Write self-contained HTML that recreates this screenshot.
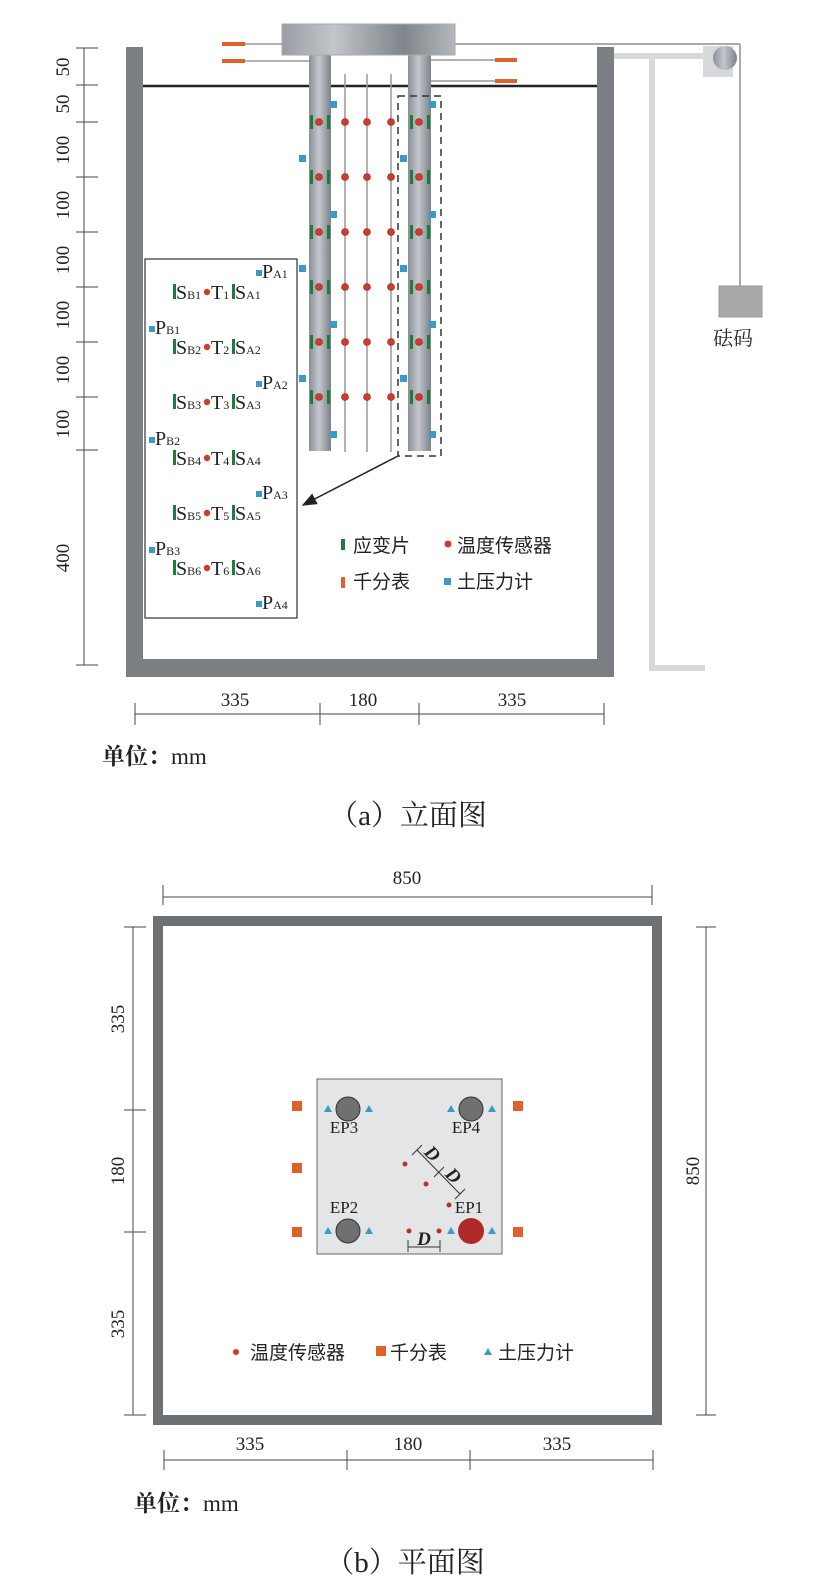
<!DOCTYPE html>
<html><head><meta charset="utf-8"><style>
html,body{margin:0;padding:0;background:#fff}
svg{display:block}
.s{font-family:"Liberation Serif","Noto Serif CJK SC",serif;fill:#222}
.c{font-family:"Liberation Sans","Noto Sans CJK SC",sans-serif;fill:#222}
.t{font-family:"Liberation Serif","Noto Serif CJK SC",serif;fill:#222}
</style></head><body>
<svg width="816" height="1577" viewBox="0 0 816 1577" xmlns="http://www.w3.org/2000/svg">
<defs>
<linearGradient id="pg" x1="0" x2="1" y1="0" y2="0">
<stop offset="0" stop-color="#8a8f96"/><stop offset="0.45" stop-color="#c4c8cd"/><stop offset="1" stop-color="#7c8289"/></linearGradient>
<linearGradient id="cg" x1="0" x2="1"><stop offset="0" stop-color="#9a9ea4"/><stop offset="0.3" stop-color="#c2c5c9"/><stop offset="0.7" stop-color="#7f858b"/><stop offset="1" stop-color="#b4b8bc"/></linearGradient>
<marker id="ar" markerWidth="10" markerHeight="8" refX="9" refY="4" orient="auto"><path d="M0,0 L10,4 L0,8 z" fill="#222"/></marker>
</defs>

<!-- ===== Elevation ===== -->
<rect x="614" y="53" width="106" height="6" fill="#d7d9db"/>
<rect x="649" y="56" width="6" height="615" fill="#d7d9db"/>
<rect x="649" y="665" width="56" height="6" fill="#d7d9db"/>
<rect x="703" y="46" width="30" height="31" fill="#d7d9db"/>
<circle cx="725" cy="58" r="12" fill="url(#pg)"/>
<line x1="455" y1="44" x2="740" y2="44" stroke="#aaa" stroke-width="2"/>
<line x1="740" y1="44" x2="740" y2="286" stroke="#aaa" stroke-width="2"/>
<rect x="719" y="286" width="43" height="31" fill="#a8a9ab" stroke="#999"/>
<text x="733" y="345" class="t" font-size="20" text-anchor="middle">砝码</text>

<rect x="126" y="47" width="17" height="630" fill="#7b7e82"/>
<rect x="597" y="47" width="17" height="630" fill="#7b7e82"/>
<rect x="126" y="659" width="488" height="18" fill="#7b7e82"/>
<line x1="143" y1="86" x2="597" y2="86" stroke="#222" stroke-width="2.5"/>

<g stroke="#999" stroke-width="1.5"><line x1="345" y1="74" x2="345" y2="452"/><line x1="367" y1="74" x2="367" y2="452"/><line x1="391" y1="74" x2="391" y2="452"/></g>
<rect x="309" y="54" width="22" height="397" fill="url(#pg)"/>
<rect x="408" y="54" width="23" height="397" fill="url(#pg)"/>
<rect x="282" y="24" width="173" height="31" fill="url(#cg)" stroke="#aaa"/>
<g stroke="#999" stroke-width="1.5">
<line x1="245" y1="44" x2="282" y2="44"/><line x1="245" y1="61" x2="309" y2="61"/>
<line x1="431" y1="60" x2="495" y2="60"/><line x1="431" y1="81" x2="495" y2="81"/>
</g>
<g fill="#e0622a"><rect x="222" y="42" width="23" height="4"/><rect x="222" y="59" width="23" height="4"/><rect x="495" y="58" width="22" height="4"/><rect x="495" y="79" width="22" height="4"/></g>
<g>
<g fill="#1f7a3d">
<rect x="310" y="115" width="3" height="14"/><rect x="327" y="115" width="3" height="14"/><rect x="410" y="115" width="3" height="14"/><rect x="427" y="115" width="3" height="14"/>
<rect x="310" y="170" width="3" height="14"/><rect x="327" y="170" width="3" height="14"/><rect x="410" y="170" width="3" height="14"/><rect x="427" y="170" width="3" height="14"/>
<rect x="310" y="225" width="3" height="14"/><rect x="327" y="225" width="3" height="14"/><rect x="410" y="225" width="3" height="14"/><rect x="427" y="225" width="3" height="14"/>
<rect x="310" y="280" width="3" height="14"/><rect x="327" y="280" width="3" height="14"/><rect x="410" y="280" width="3" height="14"/><rect x="427" y="280" width="3" height="14"/>
<rect x="310" y="335" width="3" height="14"/><rect x="327" y="335" width="3" height="14"/><rect x="410" y="335" width="3" height="14"/><rect x="427" y="335" width="3" height="14"/>
<rect x="310" y="390" width="3" height="14"/><rect x="327" y="390" width="3" height="14"/><rect x="410" y="390" width="3" height="14"/><rect x="427" y="390" width="3" height="14"/>
</g>
<g fill="#d23a2a" stroke="#8a2018" stroke-width="0.6">
<circle cx="319" cy="122" r="3.5"/><circle cx="345" cy="122" r="3.5"/><circle cx="367" cy="122" r="3.5"/><circle cx="391" cy="122" r="3.5"/><circle cx="419" cy="122" r="3.5"/>
<circle cx="319" cy="177" r="3.5"/><circle cx="345" cy="177" r="3.5"/><circle cx="367" cy="177" r="3.5"/><circle cx="391" cy="177" r="3.5"/><circle cx="419" cy="177" r="3.5"/>
<circle cx="319" cy="232" r="3.5"/><circle cx="345" cy="232" r="3.5"/><circle cx="367" cy="232" r="3.5"/><circle cx="391" cy="232" r="3.5"/><circle cx="419" cy="232" r="3.5"/>
<circle cx="319" cy="287" r="3.5"/><circle cx="345" cy="287" r="3.5"/><circle cx="367" cy="287" r="3.5"/><circle cx="391" cy="287" r="3.5"/><circle cx="419" cy="287" r="3.5"/>
<circle cx="319" cy="342" r="3.5"/><circle cx="345" cy="342" r="3.5"/><circle cx="367" cy="342" r="3.5"/><circle cx="391" cy="342" r="3.5"/><circle cx="419" cy="342" r="3.5"/>
<circle cx="319" cy="397" r="3.5"/><circle cx="345" cy="397" r="3.5"/><circle cx="367" cy="397" r="3.5"/><circle cx="391" cy="397" r="3.5"/><circle cx="419" cy="397" r="3.5"/>
</g>
<g fill="#3a9ac8">
<rect x="330" y="101" width="7" height="7"/><rect x="299" y="155" width="7" height="7"/><rect x="330" y="211" width="7" height="7"/><rect x="299" y="265" width="7" height="7"/><rect x="330" y="321" width="7" height="7"/><rect x="299" y="375" width="7" height="7"/><rect x="330" y="431" width="7" height="7"/>
<rect x="429" y="101" width="7" height="7"/><rect x="400" y="155" width="7" height="7"/><rect x="429" y="211" width="7" height="7"/><rect x="400" y="265" width="7" height="7"/><rect x="429" y="321" width="7" height="7"/><rect x="400" y="375" width="7" height="7"/><rect x="429" y="431" width="7" height="7"/>
</g>
</g>
<rect x="398" y="96" width="43" height="360" fill="none" stroke="#333" stroke-width="1.5" stroke-dasharray="7,5"/>
<line x1="398" y1="456" x2="303" y2="505" stroke="#222" stroke-width="1.5" marker-end="url(#ar)"/>

<rect x="145" y="259" width="152" height="359" fill="#fff" stroke="#333" stroke-width="1.2"/>
<g class="s" font-size="20">
<g fill="#3a9ac8"><rect x="256" y="270" width="6" height="6"/><rect x="149" y="326" width="6" height="6"/><rect x="256" y="381" width="6" height="6"/><rect x="149" y="437" width="6" height="6"/><rect x="256" y="491" width="6" height="6"/><rect x="149" y="547" width="6" height="6"/><rect x="256" y="601" width="6" height="6"/></g>
<text x="262" y="278">P<tspan font-size="12">A1</tspan></text>
<text x="155" y="334">P<tspan font-size="12">B1</tspan></text>
<text x="262" y="389">P<tspan font-size="12">A2</tspan></text>
<text x="155" y="445">P<tspan font-size="12">B2</tspan></text>
<text x="262" y="499">P<tspan font-size="12">A3</tspan></text>
<text x="155" y="555">P<tspan font-size="12">B3</tspan></text>
<text x="262" y="609">P<tspan font-size="12">A4</tspan></text>
</g>
<g class="s" font-size="20">
<g fill="#1f7a3d">
<rect x="173" y="284" width="3" height="15"/><rect x="232" y="284" width="3" height="15"/>
<rect x="173" y="339" width="3" height="15"/><rect x="232" y="339" width="3" height="15"/>
<rect x="173" y="394" width="3" height="15"/><rect x="232" y="394" width="3" height="15"/>
<rect x="173" y="450" width="3" height="15"/><rect x="232" y="450" width="3" height="15"/>
<rect x="173" y="505" width="3" height="15"/><rect x="232" y="505" width="3" height="15"/>
<rect x="173" y="560" width="3" height="15"/><rect x="232" y="560" width="3" height="15"/>
</g>
<g fill="#d23a2a"><circle cx="207" cy="292" r="3.2"/><circle cx="207" cy="347" r="3.2"/><circle cx="207" cy="402" r="3.2"/><circle cx="207" cy="458" r="3.2"/><circle cx="207" cy="513" r="3.2"/><circle cx="207" cy="568" r="3.2"/></g>
<text x="176" y="299">S<tspan font-size="12">B1</tspan></text><text x="211" y="299">T<tspan font-size="12">1</tspan></text><text x="235" y="299">S<tspan font-size="12">A1</tspan></text>
<text x="176" y="354">S<tspan font-size="12">B2</tspan></text><text x="211" y="354">T<tspan font-size="12">2</tspan></text><text x="235" y="354">S<tspan font-size="12">A2</tspan></text>
<text x="176" y="409">S<tspan font-size="12">B3</tspan></text><text x="211" y="409">T<tspan font-size="12">3</tspan></text><text x="235" y="409">S<tspan font-size="12">A3</tspan></text>
<text x="176" y="465">S<tspan font-size="12">B4</tspan></text><text x="211" y="465">T<tspan font-size="12">4</tspan></text><text x="235" y="465">S<tspan font-size="12">A4</tspan></text>
<text x="176" y="520">S<tspan font-size="12">B5</tspan></text><text x="211" y="520">T<tspan font-size="12">5</tspan></text><text x="235" y="520">S<tspan font-size="12">A5</tspan></text>
<text x="176" y="575">S<tspan font-size="12">B6</tspan></text><text x="211" y="575">T<tspan font-size="12">6</tspan></text><text x="235" y="575">S<tspan font-size="12">A6</tspan></text>
</g>

<rect x="341" y="539" width="4" height="11" fill="#1f7a3d"/>
<text x="353" y="552" class="c" font-size="19">应变片</text>
<circle cx="448" cy="544" r="3.5" fill="#d23a2a"/>
<text x="457" y="552" class="c" font-size="19">温度传感器</text>
<rect x="341" y="577" width="4" height="11" fill="#e0622a"/>
<text x="353" y="588" class="c" font-size="19">千分表</text>
<rect x="444" y="578" width="7" height="7" fill="#3a9ac8"/>
<text x="457" y="588" class="c" font-size="19">土压力计</text>

<g stroke="#444" stroke-width="1">
<line x1="84" y1="48" x2="84" y2="665"/>
<line x1="76" y1="48" x2="98" y2="48"/><line x1="76" y1="85" x2="98" y2="85"/><line x1="76" y1="122" x2="98" y2="122"/><line x1="76" y1="177" x2="98" y2="177"/><line x1="76" y1="232" x2="98" y2="232"/><line x1="76" y1="287" x2="98" y2="287"/><line x1="76" y1="342" x2="98" y2="342"/><line x1="76" y1="397" x2="98" y2="397"/><line x1="76" y1="450" x2="98" y2="450"/><line x1="76" y1="665" x2="98" y2="665"/>
</g>
<g class="s" font-size="19" text-anchor="middle">
<text transform="translate(69,67) rotate(-90)">50</text>
<text transform="translate(69,104) rotate(-90)">50</text>
<text transform="translate(69,150) rotate(-90)">100</text>
<text transform="translate(69,205) rotate(-90)">100</text>
<text transform="translate(69,260) rotate(-90)">100</text>
<text transform="translate(69,315) rotate(-90)">100</text>
<text transform="translate(69,370) rotate(-90)">100</text>
<text transform="translate(69,424) rotate(-90)">100</text>
<text transform="translate(69,558) rotate(-90)">400</text>
</g>
<g stroke="#444" stroke-width="1">
<line x1="135" y1="714" x2="604" y2="714"/>
<line x1="135" y1="703" x2="135" y2="725"/><line x1="320" y1="703" x2="320" y2="725"/><line x1="419" y1="703" x2="419" y2="725"/><line x1="604" y1="703" x2="604" y2="725"/>
</g>
<g class="s" font-size="19" text-anchor="middle"><text x="235" y="706">335</text><text x="363" y="706">180</text><text x="512" y="706">335</text></g>
<text x="102" y="764" class="t" font-size="23" font-weight="bold">单位：<tspan font-weight="normal">mm</tspan></text>
<text x="408" y="825" class="t" font-size="29" text-anchor="middle">（a）立面图</text>

<!-- ===== Plan ===== -->
<g stroke="#444" stroke-width="1">
<line x1="163" y1="897" x2="652" y2="897"/><line x1="163" y1="885" x2="163" y2="905"/><line x1="652" y1="885" x2="652" y2="905"/>
</g>
<text x="407" y="884" class="s" font-size="19" text-anchor="middle">850</text>
<rect x="158" y="921" width="499" height="499" fill="none" stroke="#6e7174" stroke-width="10"/>
<g stroke="#444" stroke-width="1">
<line x1="133" y1="927" x2="133" y2="1415"/>
<line x1="124" y1="927" x2="146" y2="927"/><line x1="124" y1="1110" x2="146" y2="1110"/><line x1="124" y1="1232" x2="146" y2="1232"/><line x1="124" y1="1415" x2="146" y2="1415"/>
<line x1="706" y1="927" x2="706" y2="1415"/><line x1="696" y1="927" x2="716" y2="927"/><line x1="696" y1="1415" x2="716" y2="1415"/>
</g>
<g class="s" font-size="19" text-anchor="middle">
<text transform="translate(124,1019) rotate(-90)">335</text>
<text transform="translate(124,1171) rotate(-90)">180</text>
<text transform="translate(124,1324) rotate(-90)">335</text>
<text transform="translate(699,1171) rotate(-90)">850</text>
</g>
<rect x="317" y="1079" width="185" height="175" fill="#e4e5e6" stroke="#666" stroke-width="1"/>
<g fill="#e0622a"><rect x="292" y="1101" width="10" height="10"/><rect x="292" y="1163" width="10" height="10"/><rect x="292" y="1227" width="10" height="10"/><rect x="513" y="1101" width="10" height="10"/><rect x="513" y="1227" width="10" height="10"/></g>
<g fill="#6e7072" stroke="#333"><ellipse cx="348" cy="1109" rx="12" ry="12"/><ellipse cx="471" cy="1109" rx="12" ry="12"/><ellipse cx="348" cy="1231" rx="12" ry="12"/></g>
<circle cx="471" cy="1231" r="13" fill="#b0282a"/>
<g fill="#3a9ac8">
<path d="M324,1112 l4,-7 l4,7z"/><path d="M365,1112 l4,-7 l4,7z"/><path d="M447,1112 l4,-7 l4,7z"/><path d="M488,1112 l4,-7 l4,7z"/>
<path d="M324,1234 l4,-7 l4,7z"/><path d="M365,1234 l4,-7 l4,7z"/><path d="M447,1234 l4,-7 l4,7z"/><path d="M488,1234 l4,-7 l4,7z"/>
</g>
<g class="s" font-size="17" text-anchor="middle"><text x="344" y="1133">EP3</text><text x="466" y="1133">EP4</text><text x="344" y="1213">EP2</text><text x="469" y="1213">EP1</text></g>
<g fill="#b8322a"><circle cx="405" cy="1164" r="2.5"/><circle cx="426" cy="1184" r="2.5"/><circle cx="449" cy="1205" r="2.5"/><circle cx="409" cy="1231" r="2.5"/><circle cx="439" cy="1231" r="2.5"/></g>
<g stroke="#333" stroke-width="1">
<line x1="417" y1="1150" x2="460" y2="1194"/>
<line x1="412" y1="1155" x2="422" y2="1145"/><line x1="434" y1="1177" x2="444" y2="1167"/><line x1="455" y1="1199" x2="465" y2="1189"/>
<line x1="408" y1="1247" x2="440" y2="1247"/><line x1="408" y1="1240" x2="408" y2="1252"/><line x1="440" y1="1240" x2="440" y2="1252"/>
</g>
<g class="s" font-size="19" font-style="italic" font-weight="bold">
<text transform="translate(428,1158) rotate(45)" text-anchor="middle">D</text>
<text transform="translate(449,1180) rotate(45)" text-anchor="middle">D</text>
<text x="424" y="1245" text-anchor="middle">D</text>
</g>
<circle cx="236" cy="1352" r="3" fill="#d23a2a"/>
<text x="250" y="1359" class="c" font-size="19">温度传感器</text>
<rect x="376" y="1346" width="10" height="10" fill="#e0622a"/>
<text x="390" y="1359" class="c" font-size="19">千分表</text>
<path d="M484,1355 l4,-7 l4,7z" fill="#3a9ac8"/>
<text x="498" y="1359" class="c" font-size="19">土压力计</text>
<g stroke="#444" stroke-width="1">
<line x1="164" y1="1460" x2="653" y2="1460"/>
<line x1="164" y1="1450" x2="164" y2="1470"/><line x1="347" y1="1450" x2="347" y2="1470"/><line x1="470" y1="1450" x2="470" y2="1470"/><line x1="653" y1="1450" x2="653" y2="1470"/>
</g>
<g class="s" font-size="19" text-anchor="middle"><text x="250" y="1450">335</text><text x="408" y="1450">180</text><text x="557" y="1450">335</text></g>
<text x="134" y="1511" class="t" font-size="23" font-weight="bold">单位：<tspan font-weight="normal">mm</tspan></text>
<text x="405" y="1572" class="t" font-size="29" text-anchor="middle">（b）平面图</text>
</svg>
</body></html>
